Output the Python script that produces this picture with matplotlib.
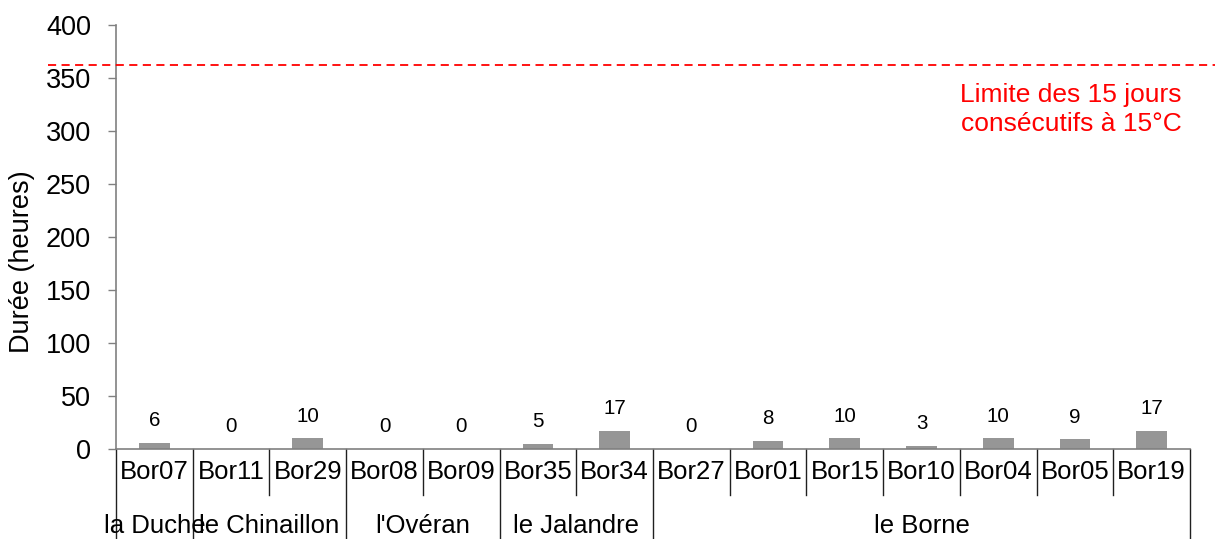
import matplotlib
matplotlib.use("Agg")
import matplotlib.pyplot as plt
import matplotlib.transforms as mtransforms
from matplotlib.lines import Line2D

plt.rcParams['font.family'] = ['Liberation Sans', 'DejaVu Sans']

stations = ["Bor07", "Bor11", "Bor29", "Bor08", "Bor09", "Bor35", "Bor34",
            "Bor27", "Bor01", "Bor15", "Bor10", "Bor04", "Bor05", "Bor19"]
durations = [6, 0, 10, 0, 0, 5, 17, 0, 8, 10, 3, 10, 9, 17]
rivers = ["la Duche", "le Chinaillon", "l'Ovéran", "le Jalandre", "le Borne"]
river_counts = [1, 2, 2, 2, 7]
limit_value = 362
limit_label = "Limite des 15 jours\nconsécutifs à 15°C"
y_ticks = [0, 50, 100, 150, 200, 250, 300, 350, 400]

W, H = 1215, 539
fig = plt.figure(figsize=(W / 100, H / 100), dpi=100)
ax = fig.add_axes([116 / W, 1 - 449 / H, (1190 - 116) / W, (449 - 25) / H])

x = list(range(len(stations)))
ax.bar(x, durations, width=0.4, color="#969696", zorder=2)
for xi, v in zip(x, durations):
    ax.annotate(str(v), (xi, v), xytext=(0, 9), textcoords="offset points",
                ha="center", va="bottom", fontsize=14.8, color="black")

ax.set_xlim(-0.5, len(stations) - 0.5)
ax.set_ylim(0, 400)
ax.set_yticks(y_ticks)
ax.tick_params(axis="y", labelsize=19.5, length=6, width=1, color="#808080", pad=12)
ax.set_xticks([])
for s in ["top", "right"]:
    ax.spines[s].set_visible(False)
ax.spines["left"].set_color("#808080")
ax.spines["bottom"].set_color("#808080")
ax.spines["left"].set_linewidth(1.2)
ax.spines["bottom"].set_linewidth(1.2)
ax.set_ylabel("Durée (heures)", fontsize=19.5, va="center")
ax.yaxis.set_label_coords(-0.0875, 0.441)

trans = mtransforms.blended_transform_factory(ax.transData, ax.transAxes)
short_y = -46 / 424
long_y = -90 / 424
bounds = [0]
for c in river_counts:
    bounds.append(bounds[-1] + c)
for i in range(len(stations) + 1):
    xb = i - 0.5
    y_end = long_y if i in bounds else short_y
    ax.add_line(Line2D([xb, xb], [0, y_end], transform=trans, color="#202020",
                       lw=1.0, clip_on=False))
for xi, name in zip(x, stations):
    ax.text(xi, -23 / 424, name, transform=trans, ha="center", va="center",
            fontsize=18.5)
for k, name in enumerate(rivers):
    center = (bounds[k] + bounds[k + 1] - 1) / 2
    ax.text(center, -77 / 424, name, transform=trans, ha="center", va="center",
            fontsize=18.5)

# limit line across the figure
ytrans = mtransforms.blended_transform_factory(fig.transFigure, ax.transData)
ax.add_line(Line2D([48 / W, 1.0], [limit_value, limit_value], transform=ytrans,
                   color="red", lw=1.3, ls=(0, (4.5, 3)), clip_on=False, zorder=3))
ax.text(1182 / W, limit_value - 42, limit_label, transform=ytrans, ha="right",
        va="center", color="red", fontsize=19, linespacing=1.25)

fig.savefig("out.png", dpi=100)
